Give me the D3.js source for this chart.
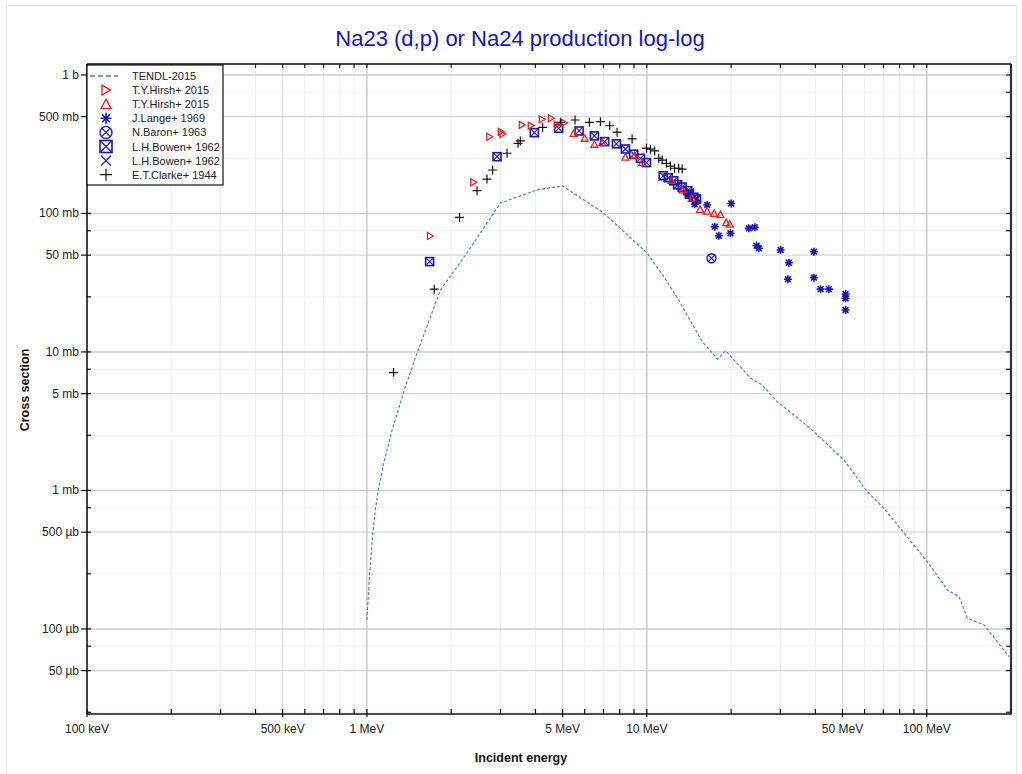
<!DOCTYPE html>
<html>
<head>
<meta charset="utf-8">
<script src="https://cdn.jsdelivr.net/npm/d3@7"></script>
<style>
  html, body { margin: 0; padding: 0; background: #fff; }
  svg { display: block; font-family: "Liberation Sans", Arial, sans-serif; }
</style>
</head>
<body>
<svg id="chart" width="1022" height="774"></svg>
<script>
// ---------- data (energy in MeV, cross section in mb) ----------
const tendlE = [1.0, 1.019, 1.0446, 1.071, 1.098, 1.144, 1.23, 1.36, 1.51, 1.83, 2.28, 3.0, 4.06, 5.0, 7.0, 10.0, 11.5, 13.0, 15.76, 17.93, 19.1, 23.5, 25.8, 29.2, 36.4, 39.5, 50.6, 61.3, 70.3, 100.5, 118.5, 130.4, 139.7, 160.2, 196.8];
const tendlS = [0.116, 0.226, 0.439, 0.723, 1.0, 1.53, 2.73, 5.3, 9.8, 28, 52, 119, 148, 158, 101, 52, 35, 23.7, 11.9, 8.86, 10.2, 6.46, 5.78, 4.38, 3.06, 2.66, 1.66, 0.98, 0.744, 0.306, 0.191, 0.171, 0.1195, 0.107, 0.063];

const hirshTriE = [1.684, 2.405, 2.744, 3.014, 3.054, 3.584, 3.858, 4.224, 4.549, 4.779, 5.074];
const hirshTriS = [68.8, 168, 358, 389, 375, 436, 431, 479, 487, 436, 452];

const hirshUpE = [5.478, 5.998, 6.497, 6.923, 8.384, 9.031, 9.621, 12.25, 13.41, 14.47, 15.50, 16.43, 17.40, 18.33, 19.21, 19.79];
const hirshUpS = [379, 349, 316, 324, 255, 260, 233, 173, 148, 129, 107, 104, 100.3, 98.0, 85.8, 83.6];

const langeE = [14.1, 14.84, 16.43, 20.02, 17.49, 18.07, 19.90, 23.14, 24.31, 24.65, 25.13, 30.05, 32.17, 31.91, 39.52, 39.52, 41.76, 44.71, 51.29, 51.29, 51.29];
const langeS = [135, 116.5, 115, 118, 80.3, 69.1, 71.9, 78.2, 79.5, 58.6, 56.1, 54.5, 44.1, 33.5, 53.0, 34.4, 28.4, 28.4, 26.2, 24.4, 20.1];

const baronE = [17.02];
const baronS = [47.5];

const bowenSqE = [1.675, 2.916, 3.964, 4.842, 5.727, 6.497, 7.073, 7.786, 8.384, 8.98, 9.487, 9.97, 11.44, 11.92, 12.48, 12.89, 13.37, 14.00, 14.20, 14.71, 15.04];
const bowenSqS = [44.9, 257, 383, 412, 394, 363, 330, 318, 292, 268, 250, 233, 187, 181, 172, 161, 155, 146, 138, 131, 127];

const bowenXE = [14.32, 15.1];
const bowenXS = [143, 129];

const clarkeE = [1.245, 1.740, 2.143, 2.474, 2.685, 2.812, 3.167, 3.467, 3.533, 4.245, 4.911, 5.541, 6.234, 6.826, 7.37, 7.83, 8.86, 9.97, 10.30, 10.67, 11.03, 11.34, 11.75, 12.15, 12.56, 13.0, 13.37];
const clarkeS = [7.09, 28.4, 93.6, 146, 177, 206, 272, 321, 334, 419, 455, 473, 455, 460, 430, 386, 345, 296, 291, 283, 250, 243, 230, 220, 212, 212, 209];

const xTickValues = [0.1, 0.5, 1, 5, 10, 50, 100];
const xTickLabels = ["100 keV", "500 keV", "1 MeV", "5 MeV", "10 MeV", "50 MeV", "100 MeV"];
const yTickValues = [1000, 500, 100, 50, 10, 5, 1, 0.5, 0.1, 0.05];
const yTickLabels = ["1 b", "500 mb", "100 mb", "50 mb", "10 mb", "5 mb", "1 mb", "500 µb", "100 µb", "50 µb"];

const legendLabels = ["TENDL-2015", "T.Y.Hirsh+ 2015", "T.Y.Hirsh+ 2015", "J.Lange+ 1969", "N.Baron+ 1963", "L.H.Bowen+ 1962", "L.H.Bowen+ 1962", "E.T.Clarke+ 1944"];

// ---------- layout ----------
const L = 87, R = 1011, T = 64, B = 714;
const svg = d3.select("#chart");
const x = d3.scaleLog().domain([0.1, 200]).range([L, R]);
const y = d3.scaleLog().domain([0.0243, 1200]).range([B, T]);

const RED = "#ff1a1a", BLUE = "#1818b8", BLACK = "#111";

// outer light border
svg.append("rect").attr("x", 6.5).attr("y", 5.5).attr("width", 1010).attr("height", 772)
  .attr("fill", "none").attr("stroke", "#e4e4e4");

// grid values
const xMinor = [], xMid = [], xMajor = [];
[0.1, 1, 10, 100].forEach(d => {
  for (let k = 1; k <= 9; k++) {
    const v = d * k;
    if (v > 200.0001) continue;
    if (k === 1) xMajor.push(v); else if (k === 5) xMid.push(v); else xMinor.push(v);
  }
});
const yMinor = [], yMid = [], yMajor = [];
[0.01, 0.1, 1, 10, 100, 1000].forEach(d => {
  [[1, yMajor], [2.5, yMinor], [5, yMid], [7.5, yMinor]].forEach(([k, arr]) => {
    const v = d * k;
    if (v >= 0.0243 && v <= 1200) arr.push(v);
  });
});

const g = svg.append("g");
g.selectAll(".gxm").data(xMinor).join("line")
  .attr("x1", d => x(d)).attr("x2", d => x(d)).attr("y1", T).attr("y2", B)
  .attr("stroke", "#efefef").attr("stroke-width", 1);
g.selectAll(".gym").data(yMinor).join("line")
  .attr("y1", d => y(d)).attr("y2", d => y(d)).attr("x1", L).attr("x2", R)
  .attr("stroke", "#f0f0f0").attr("stroke-width", 1);
g.selectAll(".gx5").data(xMid).join("line")
  .attr("x1", d => x(d)).attr("x2", d => x(d)).attr("y1", T).attr("y2", B)
  .attr("stroke", "#dcdcdc").attr("stroke-width", 1);
g.selectAll(".gy5").data(yMid).join("line")
  .attr("y1", d => y(d)).attr("y2", d => y(d)).attr("x1", L).attr("x2", R)
  .attr("stroke", "#d8d8d8").attr("stroke-width", 1.2);
g.selectAll(".gx1").data(xMajor).join("line")
  .attr("x1", d => x(d)).attr("x2", d => x(d)).attr("y1", T).attr("y2", B)
  .attr("stroke", "#cccccc").attr("stroke-width", 1.5);
g.selectAll(".gy1").data(yMajor).join("line")
  .attr("y1", d => y(d)).attr("y2", d => y(d)).attr("x1", L).attr("x2", R)
  .attr("stroke", "#cccccc").attr("stroke-width", 1.5);

// ---------- TENDL curve ----------
const tendl = tendlE.map((e, i) => [e, tendlS[i]]);
svg.append("path").datum(tendl)
  .attr("d", d3.line().x(d => x(d[0])).y(d => y(d[1])))
  .attr("fill", "none").attr("stroke", "#4a74e8").attr("stroke-width", 1.1)
  .attr("stroke-dasharray", "3,2");

// ---------- marker shapes ----------
function drawMarker(sel, type, s) {
  const h = s / 2;
  if (type === "tri") {
    sel.append("path").attr("d", `M${-h*0.8},${-h} L${h*0.9},0 L${-h*0.8},${h} Z`)
      .attr("fill", "none").attr("stroke", RED).attr("stroke-width", 1.3);
  } else if (type === "up") {
    sel.append("path").attr("d", `M0,${-h} L${h},${h*0.85} L${-h},${h*0.85} Z`)
      .attr("fill", "none").attr("stroke", RED).attr("stroke-width", 1.3);
  } else if (type === "star") {
    const a = h * 0.72;
    sel.append("path").attr("d", `M${-h},0 L${h},0 M0,${-h} L0,${h} M${-a},${-a} L${a},${a} M${-a},${a} L${a},${-a}`)
      .attr("fill", "none").attr("stroke", BLUE).attr("stroke-width", 1.6);
  } else if (type === "circx") {
    const a = h * 0.7;
    sel.append("circle").attr("r", h).attr("fill", "none").attr("stroke", BLUE).attr("stroke-width", 1.4);
    sel.append("path").attr("d", `M${-a},${-a} L${a},${a} M${-a},${a} L${a},${-a}`)
      .attr("stroke", BLUE).attr("stroke-width", 1.2);
  } else if (type === "sqx") {
    sel.append("rect").attr("x", -h).attr("y", -h).attr("width", s).attr("height", s)
      .attr("fill", "none").attr("stroke", BLUE).attr("stroke-width", 1.6);
    sel.append("path").attr("d", `M${-h},${-h} L${h},${h} M${-h},${h} L${h},${-h}`)
      .attr("stroke", BLUE).attr("stroke-width", 1.1);
  } else if (type === "x") {
    sel.append("path").attr("d", `M${-h},${-h} L${h},${h} M${-h},${h} L${h},${-h}`)
      .attr("stroke", BLUE).attr("stroke-width", 1.3);
  } else if (type === "plus") {
    sel.append("path").attr("d", `M${-h},0 L${h},0 M0,${-h} L0,${h}`)
      .attr("stroke", BLACK).attr("stroke-width", 1.2);
  }
}

function series(E, S, type, size) {
  const pts = E.map((e, i) => [e, S[i]]);
  svg.append("g").selectAll("g").data(pts).join("g")
    .attr("transform", d => `translate(${x(d[0])},${y(d[1])})`)
    .each(function () { drawMarker(d3.select(this), type, size); });
}
series(clarkeE, clarkeS, "plus", 9);
series(bowenXE, bowenXS, "x", 7);
series(bowenSqE, bowenSqS, "sqx", 8);
series(baronE, baronS, "circx", 9);
series(langeE, langeS, "star", 8);
series(hirshUpE, hirshUpS, "up", 7);
series(hirshTriE, hirshTriS, "tri", 7);

// ---------- frame & ticks ----------
const frame = svg.append("g");
frame.append("line").attr("x1", L).attr("x2", R).attr("y1", T).attr("y2", T).attr("stroke", "#111").attr("stroke-width", 1.5);
frame.append("line").attr("x1", R).attr("x2", R).attr("y1", T).attr("y2", B).attr("stroke", "#333").attr("stroke-width", 2.2);
frame.append("line").attr("x1", L).attr("x2", R).attr("y1", B).attr("y2", B).attr("stroke", "#111").attr("stroke-width", 1.5);
frame.append("line").attr("x1", L).attr("x2", L).attr("y1", T).attr("y2", B).attr("stroke", "#111").attr("stroke-width", 1.5);

const xAll = xMajor.concat(xMid, xMinor);
const yAll = yMajor.concat(yMid, yMinor);
const isMajX = d => xTickValues.some(v => Math.abs(v - d) / v < 1e-6);
const isMajY = d => yTickValues.some(v => Math.abs(v - d) / v < 1e-6);
// bottom
frame.selectAll(".tb").data(xAll).join("line")
  .attr("x1", d => x(d)).attr("x2", d => x(d))
  .attr("y1", d => isMajX(d) ? B + 3 : B).attr("y2", B - 5)
  .attr("stroke", "#111").attr("stroke-width", 1.2);
// top
frame.selectAll(".tt").data(xAll).join("line")
  .attr("x1", d => x(d)).attr("x2", d => x(d)).attr("y1", T).attr("y2", T + 4)
  .attr("stroke", "#111").attr("stroke-width", 1.2);
// left
frame.selectAll(".tl").data(yAll).join("line")
  .attr("y1", d => y(d)).attr("y2", d => y(d))
  .attr("x1", d => isMajY(d) ? L - 6 : L).attr("x2", L + 4)
  .attr("stroke", "#111").attr("stroke-width", 1.2);
// right
frame.selectAll(".tr").data(yAll).join("line")
  .attr("y1", d => y(d)).attr("y2", d => y(d)).attr("x1", R - 5).attr("x2", R)
  .attr("stroke", "#222").attr("stroke-width", 1.2);

// tick labels
svg.append("g").selectAll("text").data(xTickValues).join("text")
  .attr("x", d => x(d)).attr("y", 733).attr("text-anchor", "middle")
  .attr("font-size", 12).attr("fill", "#222")
  .text((d, i) => xTickLabels[i]);
svg.append("g").selectAll("text").data(yTickValues).join("text")
  .attr("x", 79).attr("y", d => y(d) + 4).attr("text-anchor", "end")
  .attr("font-size", 12).attr("fill", "#222")
  .text((d, i) => yTickLabels[i]);

// axis titles
svg.append("text").attr("x", 521).attr("y", 762).attr("text-anchor", "middle")
  .attr("font-size", 12.5).attr("font-weight", "bold").attr("fill", "#111").text("Incident energy");
svg.append("text").attr("transform", "translate(29,390) rotate(-90)").attr("text-anchor", "middle")
  .attr("font-size", 12.5).attr("font-weight", "bold").attr("fill", "#111").text("Cross section");

// title
svg.append("text").attr("x", 520).attr("y", 46).attr("text-anchor", "middle")
  .attr("font-size", 22).attr("fill", "#1414c8").text("Na23 (d,p) or Na24 production log-log");

// ---------- legend ----------
const lg = svg.append("g");
lg.append("rect").attr("x", 87).attr("y", 65).attr("width", 136).attr("height", 120)
  .attr("fill", "#fff").attr("stroke", "#111").attr("stroke-width", 1.2);
const types = ["line", "tri", "up", "star", "circx", "sqx", "x", "plus"];
const sizes = [0, 10, 10, 11, 12, 12, 10, 12];
legendLabels.forEach((lab, i) => {
  const yy = 76 + i * 14.1;
  if (types[i] === "line") {
    lg.append("line").attr("x1", 90).attr("x2", 118).attr("y1", yy).attr("y2", yy)
      .attr("stroke", "#4a74e8").attr("stroke-width", 1.6).attr("stroke-dasharray", "5,3");
  } else {
    const m = lg.append("g").attr("transform", `translate(106,${yy})`);
    drawMarker(m, types[i], sizes[i]);
  }
  lg.append("text").attr("x", 132).attr("y", yy + 4).attr("font-size", 11).attr("fill", "#222").text(lab);
});
</script>
</body>
</html>
